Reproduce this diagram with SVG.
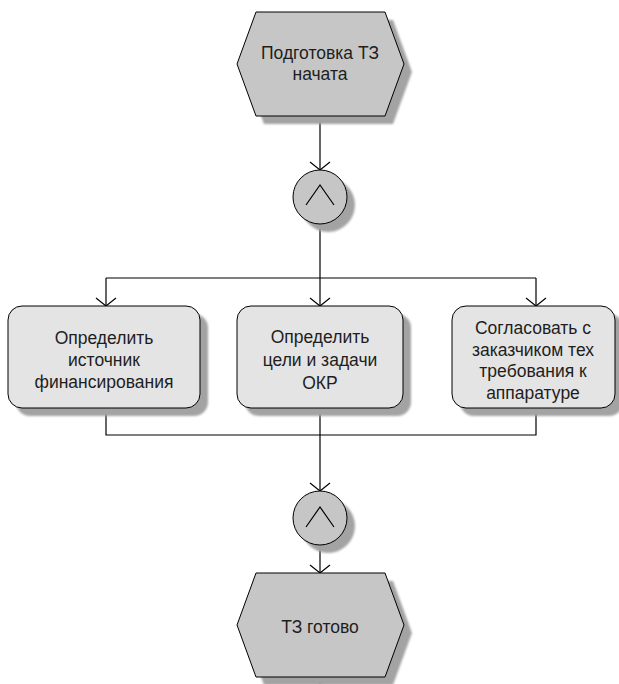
<svg xmlns="http://www.w3.org/2000/svg" width="619" height="684" viewBox="0 0 619 684">
  <style>
    .evt { fill: #c6c6c6; stroke: #000; stroke-width: 1; }
    .fn { fill: #e4e4e4; stroke: #000; stroke-width: 1; }
    .op { fill: #c6c6c6; stroke: #000; stroke-width: 1; }
    .shadow { fill: #a3a3a3; filter: url(#soft); }
    .lbl { font-family: "Liberation Sans", Arial, sans-serif; font-size: 17.5px; fill: #1e1e1e; text-anchor: middle; }
    .wire { fill: none; stroke: #000; stroke-width: 1.2; }
    .arrowed { marker-end: url(#arr); }
  </style>
  <defs>
    <filter id="soft" x="-10%" y="-10%" width="120%" height="120%">
      <feGaussianBlur stdDeviation="0.8"/>
    </filter>
    <marker id="arr" markerUnits="userSpaceOnUse" viewBox="0 0 20 20" markerWidth="20" markerHeight="20" refX="10" refY="10" orient="auto" overflow="visible">
      <path d="M2,0 L10,10 L2,20" fill="none" stroke="#000" stroke-width="1.2"/>
    </marker>
  </defs>

  <!-- connectors -->
  <g id="connectors">
    <path class="wire arrowed" d="M320,116 V170"/>
    <path class="wire arrowed" d="M320,224 V306"/>
    <path class="wire" d="M106,278 H536"/>
    <path class="wire arrowed" d="M106,278 V306"/>
    <path class="wire arrowed" d="M536,278 V306"/>
    <path class="wire" d="M106,408 V435 H536 V408"/>
    <path class="wire arrowed" d="M320,408 V491"/>
    <path class="wire arrowed" d="M320,545 V573"/>
    <path class="wire" d="M320,677 V684"/>
  </g>

  <!-- start event -->
  <g id="event-start">
    <polygon class="shadow" points="264,20 393,20 412,72 393,124 264,124 245,72"/>
    <polygon class="evt" points="256,12 385,12 404,64 385,116 256,116 237,64"/>
    <text class="lbl" x="320" y="59">Подготовка ТЗ</text>
    <text class="lbl" x="320" y="80">начата</text>
  </g>

  <!-- AND split -->
  <g id="and-split">
    <circle class="shadow" cx="328" cy="205" r="27"/>
    <circle class="op" cx="320" cy="197" r="27"/>
    <path class="wire" d="M306,205 L320,185 L334,205"/>
  </g>

  <!-- functions -->
  <g id="fn-finance">
    <rect class="shadow" x="16" y="314" width="192" height="102" rx="14"/>
    <rect class="fn" x="8" y="306" width="192" height="102" rx="14"/>
    <text class="lbl" x="104" y="344">Определить</text>
    <text class="lbl" x="104" y="366">источник</text>
    <text class="lbl" x="104" y="388">финансирования</text>
  </g>

  <g id="fn-goals">
    <rect class="shadow" x="245" y="314" width="166" height="102" rx="14"/>
    <rect class="fn" x="237" y="306" width="166" height="102" rx="14"/>
    <text class="lbl" x="320" y="343">Определить</text>
    <text class="lbl" x="320" y="366">цели и задачи</text>
    <text class="lbl" x="320" y="389">ОКР</text>
  </g>

  <g id="fn-agree">
    <rect class="shadow" x="460" y="314" width="163" height="102" rx="14"/>
    <rect class="fn" x="452" y="306" width="163" height="102" rx="14"/>
    <text class="lbl" x="533" y="334">Согласовать с</text>
    <text class="lbl" x="533" y="356">заказчиком тех</text>
    <text class="lbl" x="533" y="377">требования к</text>
    <text class="lbl" x="533" y="399">аппаратуре</text>
  </g>

  <!-- AND join -->
  <g id="and-join">
    <circle class="shadow" cx="328" cy="526" r="27"/>
    <circle class="op" cx="320" cy="518" r="27"/>
    <path class="wire" d="M306,527 L320,507 L334,527"/>
  </g>

  <!-- end event -->
  <g id="event-end">
    <polygon class="shadow" points="264,581 393,581 412,633 393,685 264,685 245,633"/>
    <polygon class="evt" points="256,573 385,573 404,625 385,677 256,677 237,625"/>
    <text class="lbl" x="320" y="633">ТЗ готово</text>
  </g>
</svg>
